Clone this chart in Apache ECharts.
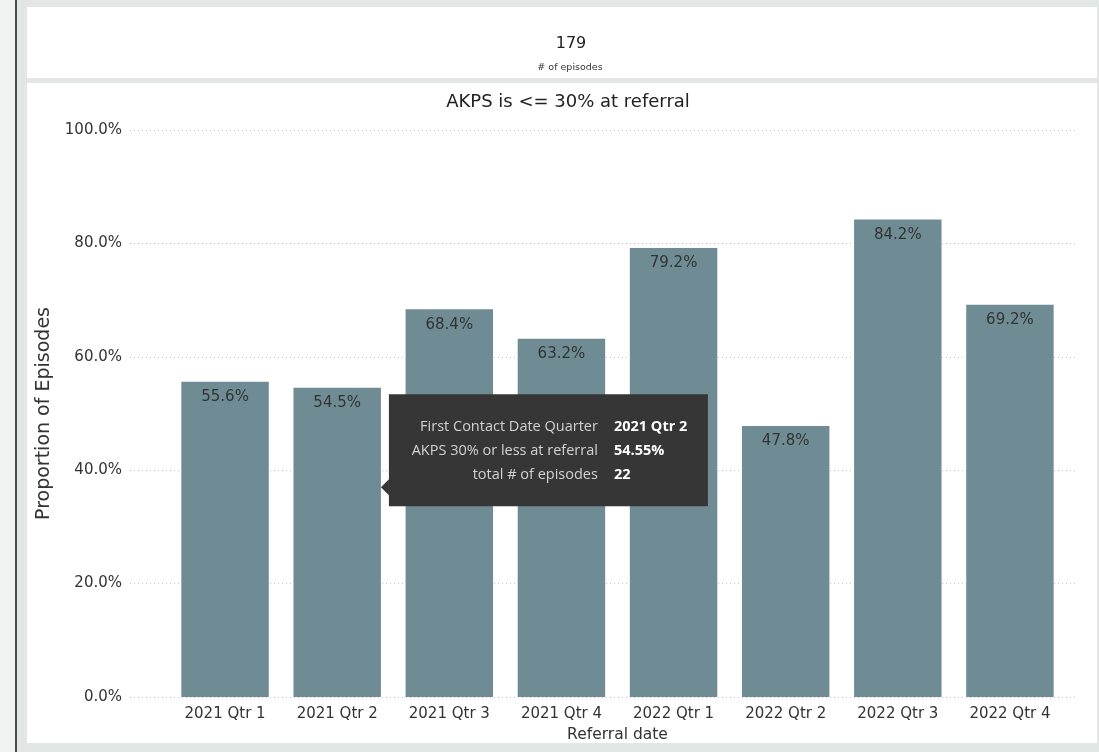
<!DOCTYPE html>
<html>
<head>
<meta charset="utf-8">
<title>AKPS is &lt;= 30% at referral</title>
<script src="https://cdn.jsdelivr.net/npm/echarts@6/dist/echarts.min.js"></script>
<style>
  html, body { margin: 0; padding: 0; width: 1099px; height: 752px; overflow: hidden; background: #f1f2f2; }
  .frame { position: absolute; }
  #chart { position: absolute; left: 0; top: 0; width: 1099px; height: 752px; }
</style>
</head>
<body>
<!-- report canvas: side rail, header card and visual card -->
<div class="frame" style="left:15px;top:0;width:2px;height:752px;background:#4a4d4d;"></div>
<div class="frame" style="left:17px;top:0;width:1082px;height:752px;background:#e2e7e5;"></div>
<div class="frame" style="left:27px;top:7px;width:1070px;height:71px;background:#ffffff;"></div>
<div class="frame" style="left:27px;top:83px;width:1070px;height:660px;background:#ffffff;"></div>
<div id="chart"></div>
<script>
// ---- data ----
const categories = ['2021 Qtr 1', '2021 Qtr 2', '2021 Qtr 3', '2021 Qtr 4',
                    '2022 Qtr 1', '2022 Qtr 2', '2022 Qtr 3', '2022 Qtr 4'];
const proportions = [55.6, 54.55, 68.4, 63.2, 79.2, 47.8, 84.2, 69.2];
const yTickValues = [0, 20, 40, 60, 80, 100];
const totalEpisodes = 179;

// hovered quarter shown in the detail box
const hoverIndex = 1;
const hoverEpisodes = 22;
const hoverPointerValue = 37;   // pointer height on the value axis

const chart = echarts.init(document.getElementById('chart'), null, { renderer: 'canvas' });

const textFont = 'DejaVu Sans';
const yMin = yTickValues[0];
const yMax = yTickValues[yTickValues.length - 1];
const yStep = yTickValues[1] - yTickValues[0];

const option = {
  backgroundColor: 'transparent',
  animation: false,
  title: [
    { text: String(totalEpisodes), left: 566, top: 31, textAlign: 'center',
      textStyle: { fontFamily: textFont, fontSize: 16, fontWeight: 'normal', color: '#222' } },
    { text: '# of episodes', left: 565, top: 58, textAlign: 'center',
      textStyle: { fontFamily: textFont, fontSize: 9.5, fontWeight: 'normal', color: '#333' } },
    { text: 'AKPS is <= 30% at referral', left: 563, top: 88, textAlign: 'center',
      textStyle: { fontFamily: textFont, fontSize: 18, fontWeight: 'normal', color: '#222' } }
  ],
  grid: [
    // value scale, labels and dotted gridlines
    { left: 130, right: 24, top: 130, bottom: 55 },
    // bars
    { left: 169, right: 33, top: 130, bottom: 55 }
  ],
  xAxis: [
    { type: 'value', gridIndex: 0, show: false, min: 0, max: 1 },
    { type: 'category', gridIndex: 1, data: categories,
      axisLine: { show: false }, axisTick: { show: false },
      axisLabel: { margin: 10, fontFamily: textFont, fontSize: 15, color: '#333' },
      name: 'Referral date', nameLocation: 'middle', nameGap: 27,
      nameTextStyle: { fontFamily: textFont, fontSize: 15.5, color: '#333' } }
  ],
  yAxis: [
    { type: 'value', gridIndex: 0, min: yMin, max: yMax, interval: yStep,
      axisLine: { show: false }, axisTick: { show: false },
      axisLabel: { margin: 8, fontFamily: textFont, fontSize: 15, color: '#333',
                   formatter: v => v.toFixed(1) + '%' },
      splitLine: { show: true, lineStyle: { color: '#c8c8c8', width: 1, type: [1, 3] } },
      name: 'Proportion of Episodes', nameLocation: 'middle', nameRotate: 90, nameGap: 76,
      nameTextStyle: { fontFamily: textFont, fontSize: 19, color: '#333' } },
    { type: 'value', gridIndex: 1, min: yMin, max: yMax, interval: yStep, show: false,
      splitLine: { show: false } }
  ],
  series: [{
    type: 'bar',
    xAxisIndex: 1, yAxisIndex: 1,
    data: proportions,
    barCategoryGap: '22%',
    itemStyle: { color: '#6f8c94' },
    label: {
      show: true, position: 'insideTop', distance: 8,
      fontFamily: textFont, fontSize: 15, color: '#333',
      formatter: p => p.value.toFixed(1) + '%'
    }
  }]
};

chart.setOption(option);

// detail box for the hovered quarter, anchored at the bar's right edge
const centre = chart.convertToPixel({ xAxisIndex: 1, yAxisIndex: 1 }, [hoverIndex, hoverPointerValue]);
const bandWidth = chart.getModel().getComponent('xAxis', 1).axis.getBandWidth();
const anchorX = centre[0] + bandWidth * 0.78 / 2;
const anchorY = centre[1];

const tipRows = [
  ['First Contact Date Quarter', categories[hoverIndex]],
  ['AKPS 30% or less at referral', proportions[hoverIndex].toFixed(2) + '%'],
  ['total # of episodes', String(hoverEpisodes)]
];
const tipFont = 'Open Sans';
const tipZ = 100;
const tipChildren = [
  { type: 'polygon', z: tipZ, shape: { points: [[0, 0], [8, -8], [8, 8]] }, style: { fill: '#363636' } },
  { type: 'rect', z: tipZ, shape: { x: 8, y: -93, width: 319, height: 112 }, style: { fill: '#363636' } }
];
tipRows.forEach((row, i) => {
  const y = -60 + i * 24;
  tipChildren.push({ type: 'text', z: tipZ + 1, x: 217, y: y,
    style: { text: row[0], align: 'right', verticalAlign: 'middle',
             fontFamily: tipFont, fontSize: 14.5, fill: '#d2d2d2' } });
  tipChildren.push({ type: 'text', z: tipZ + 1, x: 233, y: y,
    style: { text: row[1], align: 'left', verticalAlign: 'middle',
             fontFamily: tipFont, fontSize: 14.5, fontWeight: 'bold', fill: '#ffffff' } });
});

chart.setOption({
  graphic: [{ type: 'group', x: anchorX, y: anchorY, z: tipZ, children: tipChildren }]
});
</script>
</body>
</html>
